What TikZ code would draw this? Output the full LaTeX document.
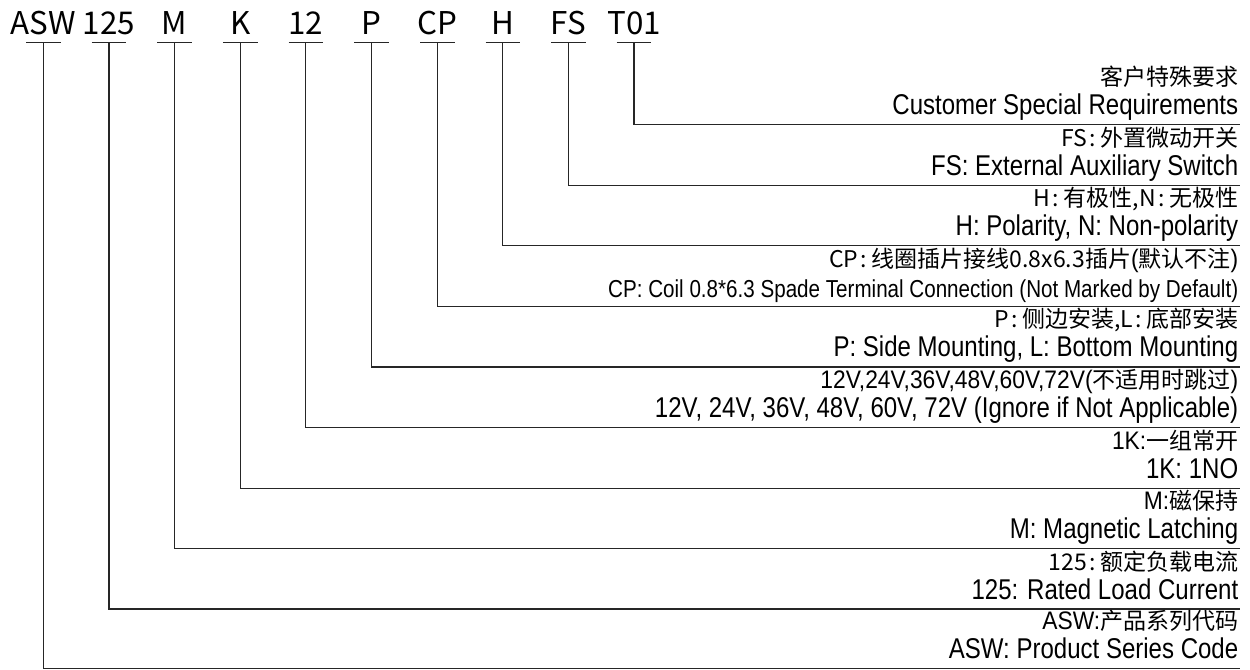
\documentclass[tikz,border=0pt]{standalone}
\usepackage{fontspec}
\newfontfamily\cjk{Noto Sans CJK SC}
\newfontfamily\narrow[FakeStretch=0.84]{Liberation Sans}
\newfontfamily\narrowb[FakeStretch=0.9]{Liberation Sans}
\usetikzlibrary{calc}
\newcommand{\nl}[1]{{\fontsize{19pt}{21pt}\narrowb #1}}
\newcommand{\cc}{\hspace{0.1em}:\hspace{0.2em}}
\tikzset{
  code/.style={font=\fontsize{23.5pt}{26pt}\cjk, inner sep=0pt, anchor=base},
  en/.style={font=\fontsize{21.45pt}{24pt}\narrow, inner sep=0pt, anchor=base east},
  ensmall/.style={font=\fontsize{18.4pt}{20pt}\narrow, inner sep=0pt, anchor=base east},
  zh/.style={font=\fontsize{17.25pt}{20pt}\cjk, inner sep=0pt, anchor=base east},
  leader/.style={draw=black!85, line width=1pt},
}
\begin{document}
\begin{tikzpicture}[x=0.75pt,y=-0.75pt]
\useasboundingbox (0,0) rectangle (1250,670);
% codes
\node[code] (c0) at (43.3,35) {ASW};
\node[code] (c1) at (109.0,35) {125};
\node[code] (c2) at (174.5,35) {M};
\node[code] (c3) at (240.2,35) {K};
\node[code] (c4) at (305.8,35) {12};
\node[code] (c5) at (371.6,35) {P};
\node[code] (c6) at (437.3,35) {CP};
\node[code] (c7) at (502.8,35) {H};
\node[code] (c8) at (568.3,35) {FS};
\node[code] (c9) at (634.0,35) {T01};
% bar tops
\foreach \i/\x in {0/43.3,1/109.0,2/174.5,3/240.2,4/305.8,5/371.6,6/437.3,7/502.8,8/568.3,9/634.0}{
  \coordinate (b\i) at (\x,42.3);
}
% line ends
\coordinate (e9) at (1240,124.3);
\coordinate (e8) at (1240,185.3);
\coordinate (e7) at (1240,245.7);
\coordinate (e6) at (1240,306.4);
\coordinate (e5) at (1240,366.9);
\coordinate (e4) at (1240,427.3);
\coordinate (e3) at (1240,488.3);
\coordinate (e2) at (1240,548.3);
\coordinate (e1) at (1240,609.0);
\coordinate (e0) at (1240,668.3);
\foreach \i in {0,...,9}{
  \draw[leader] ($(b\i)+(-17.3,0)$) -- ($(b\i)+(17.3,0)$);
  \draw[leader] (b\i) |- (e\i);
}
% texts
\node[zh] (z9) at (1238.5,85.3) {客户特殊要求};
\node[en] (t9) at (1238.5,114.3) {Customer Special Requirements};
\node[zh] (z8) at (1238.5,146.3) {FS\cc 外置微动开关};
\node[en] (t8) at (1238.5,175.3) {FS: External Auxiliary Switch};
\node[zh] (z7) at (1238.5,206.7) {H\cc 有极性,N\cc 无极性};
\node[en] (t7) at (1238.5,235.7) {H: Polarity, N: Non-polarity};
\node[zh] (z6) at (1238.5,267.4) {CP\cc 线圈插片接线0.8x6.3插片\nl{(}默认不注\nl{)}};
\node[ensmall] (t6) at (1238.5,297.4) {CP: Coil 0.8*6.3 Spade Terminal Connection (Not Marked by Default)};
\node[zh] (z5) at (1238.5,327.9) {P\cc 侧边安装,L\cc 底部安装};
\node[en] (t5) at (1238.5,356.9) {P: Side Mounting, L: Bottom Mounting};
\node[zh] (z4) at (1238.5,388.3) {\nl{12V,24V,36V,48V,60V,72V(}不适用时跳过\nl{)}};
\node[en] (t4) at (1238.5,417.3) {12V, 24V, 36V, 48V, 60V, 72V (Ignore if Not Applicable)};
\node[zh] (z3) at (1238.5,449.3) {\nl{1K:}一组常开};
\node[en] (t3) at (1238.5,478.3) {1K: 1NO};
\node[zh] (z2) at (1238.5,509.3) {\nl{M:}磁保持};
\node[en] (t2) at (1238.5,538.3) {M: Magnetic Latching};
\node[zh] (z1) at (1238.5,570.0) {125\cc 额定负载电流};
\node[en] (t1) at (1238.5,599.0) {125: Rated Load Current};
\node[zh] (z0) at (1238.5,629.3) {\nl{ASW:}产品系列代码};
\node[en] (t0) at (1238.5,658.3) {ASW: Product Series Code};
\end{tikzpicture}
\end{document}
